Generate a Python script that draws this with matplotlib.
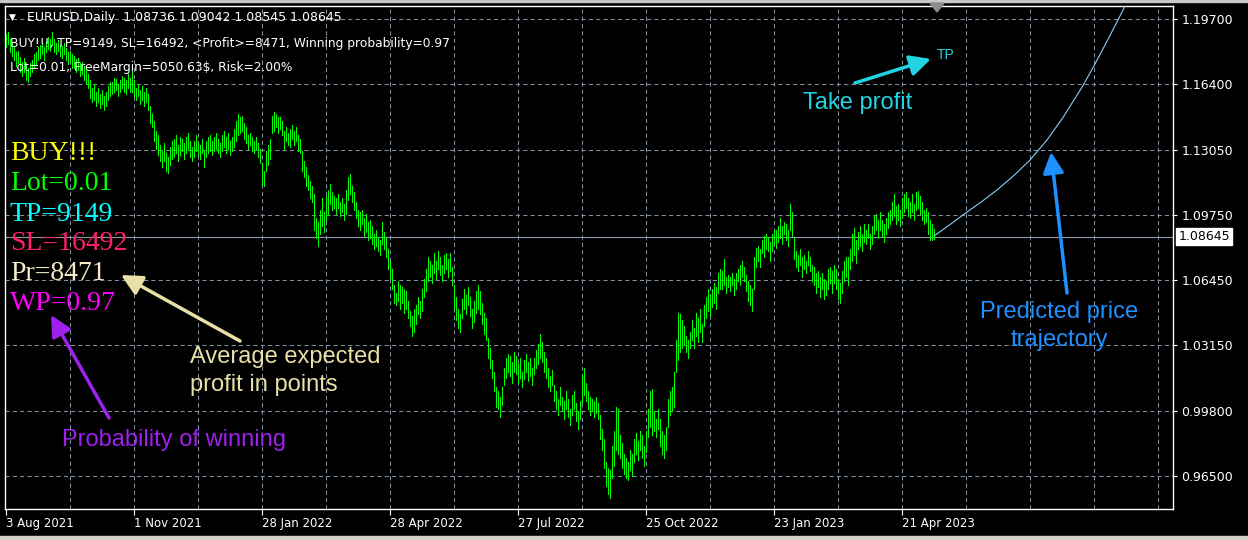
import numpy as np
import matplotlib
matplotlib.use('Agg')
import matplotlib.pyplot as plt
from matplotlib.patches import Polygon, Rectangle, FancyArrowPatch
from matplotlib.transforms import blended_transform_factory

# Daily EURUSD bars, low / high in pips (price * 10000)
bar_low = [
    11830, 11845, 11800, 11780, 11760, 11730, 11745, 11700, 11680, 11700, 11660, 11650, 11680,
    11700, 11720, 11740, 11760, 11770, 11790, 11760, 11800, 11820, 11810, 11840,
    11800, 11790, 11810, 11780, 11770, 11790, 11760, 11740, 11750, 11720,
    11720, 11700, 11710, 11680, 11690, 11660, 11640, 11620,
    11570, 11550, 11560, 11530, 11550, 11520, 11540, 11510, 11530, 11560, 11580,
    11590, 11600, 11610, 11580, 11600, 11620, 11600, 11590, 11620, 11600, 11600,
    11580, 11560, 11580, 11540, 11560, 11530, 11550, 11510,
    11440, 11420, 11350, 11310,
    11280, 11250, 11220, 11250, 11200, 11190, 11230, 11260,
    11270, 11290, 11250, 11280, 11300, 11260, 11290, 11310, 11270, 11250,
    11270, 11300, 11280, 11260, 11290, 11220, 11270, 11290, 11300, 11280,
    11300, 11310, 11290, 11270, 11300, 11320, 11290, 11310, 11280, 11300,
    11320, 11350, 11380,
    11390, 11400, 11360, 11340,
    11310, 11330, 11300, 11290, 11310, 11270, 11240,
    11130, 11120,
    11200, 11230, 11260,
    11390, 11400, 11420, 11390, 11410, 11380,
    11310, 11350, 11330, 11320, 11360, 11330, 11350, 11300, 11290,
    11200, 11170, 11120, 11100, 11060, 11040,
    10900, 10860, 10820, 10880, 10920, 10890, 10950,
    10980, 11030, 11000, 11010, 10980, 11010, 10970, 10990, 10950, 10980,
    11050, 11080, 11040, 11000,
    10960, 10920, 10900, 10930, 10870, 10890, 10850, 10860, 10830, 10800, 10820, 10790, 10770,
    10830, 10800, 10760,
    10700, 10650, 10600, 10530, 10520, 10540, 10500, 10530, 10480, 10500,
    10450, 10410, 10360, 10380, 10420, 10470, 10450, 10490,
    10560, 10590, 10640, 10660, 10630, 10680, 10650, 10700, 10670, 10640, 10680, 10700, 10660, 10690, 10620,
    10500, 10440, 10400, 10380, 10450, 10500, 10470, 10520, 10460, 10400,
    10430, 10480, 10500, 10470, 10420, 10370, 10340,
    10250, 10200, 10150, 10080, 10000, 9990, 9950, 10010,
    10110, 10150, 10180, 10160, 10120, 10180, 10170, 10120, 10150, 10100, 10140, 10180, 10130, 10160, 10110, 10170, 10200,
    10220, 10250, 10230, 10180, 10150,
    10100, 10080, 10110,
    10030, 9990, 9960, 10010, 9980, 9940, 9990, 9950, 9910, 9960, 9990, 9930, 9890, 9940,
    10020, 10060, 10030,
    9990, 9960, 9980, 9950, 9970, 9940,
    9840, 9780, 9690, 9600, 9560, 9540,
    9640, 9700, 9780, 9760, 9740,
    9690, 9660, 9640, 9630, 9680, 9650,
    9720, 9760, 9730, 9780, 9740, 9700, 9770,
    9850, 9900, 9860, 9880, 9850, 9890, 9800, 9760,
    9740, 9780, 9900, 9960,
    9980, 10000, 10180, 10240, 10280, 10300,
    10320, 10280, 10250, 10300, 10340, 10300, 10360, 10330, 10380, 10330,
    10410, 10450, 10490, 10460, 10510, 10530, 10500, 10580, 10600,
    10600, 10620, 10580, 10610, 10590, 10620, 10570, 10600, 10640, 10620, 10660, 10640, 10590,
    10540, 10520, 10490,
    10600, 10710, 10740, 10710, 10780, 10760, 10800, 10790, 10740, 10790,
    10830, 10810, 10840, 10860, 10830, 10880, 10850, 10820, 10900, 10870,
    10750, 10710, 10690, 10720, 10660, 10700, 10680, 10720, 10690,
    10640, 10620, 10580, 10610, 10560, 10600, 10550, 10570, 10600, 10630, 10580,
    10630, 10600, 10550, 10530, 10580, 10640, 10660,
    10620, 10700, 10740, 10770, 10730,
    10800, 10820, 10790, 10840, 10830, 10860, 10800, 10830,
    10880, 10900, 10860, 10900, 10870, 10840, 10880, 10910, 10930,
    10950, 10970, 10930, 10950, 10920, 10960,
    10990, 11010, 10970, 10960, 10990, 10950, 11000, 11010, 10980, 10950,
    10930, 10940, 10880, 10850, 10850, 10854,
]
bar_high = [
    11895, 11905, 11870, 11850, 11830, 11800, 11810, 11775, 11750, 11770, 11740, 11720, 11745,
    11760, 11790, 11800, 11830, 11840, 11850, 11830, 11860, 11880, 11870, 11905,
    11870, 11850, 11865, 11840, 11835, 11850, 11825, 11800, 11810, 11790,
    11780, 11765, 11770, 11745, 11750, 11730, 11710, 11690,
    11660, 11620, 11640, 11600, 11620, 11590, 11610, 11580, 11600, 11630, 11650,
    11650, 11670, 11665, 11640, 11660, 11680, 11670, 11660, 11690, 11670, 11710,
    11660, 11620, 11640, 11610, 11630, 11600, 11620, 11590,
    11530, 11490, 11450, 11400,
    11380, 11330, 11300, 11340, 11290, 11270, 11320, 11350,
    11360, 11380, 11330, 11370, 11360, 11340, 11370, 11390, 11350, 11320,
    11350, 11380, 11340, 11330, 11360, 11300, 11350, 11370, 11380, 11350,
    11370, 11390, 11360, 11340, 11380, 11400, 11370, 11390, 11350, 11370,
    11410, 11450, 11490,
    11470, 11480, 11440, 11420,
    11380, 11390, 11370, 11350, 11370, 11340, 11310,
    11240, 11200,
    11300, 11330, 11360,
    11480, 11500, 11490, 11470, 11470, 11450,
    11400, 11420, 11390, 11410, 11430, 11400, 11420, 11380, 11360,
    11300, 11250, 11220, 11180, 11150, 11120,
    11080, 10960, 10940, 11000, 11060, 10990, 11070,
    11100, 11130, 11090, 11070, 11060, 11080, 11040, 11060, 11030, 11100,
    11170, 11185, 11120, 11090,
    11040, 11000, 10990, 11000, 10960, 10980, 10940, 10950, 10920, 10880, 10900, 10860, 10850,
    10940, 10890, 10860,
    10800, 10740, 10700, 10620, 10580, 10640, 10620, 10610, 10600, 10590,
    10540, 10490, 10460, 10500, 10520, 10560, 10540, 10600,
    10650, 10700, 10760, 10740, 10720, 10780, 10740, 10790, 10760, 10720, 10770, 10780, 10750, 10780, 10710,
    10620, 10560, 10500, 10470, 10550, 10600, 10570, 10610, 10560, 10500,
    10540, 10590, 10620, 10590, 10530, 10480, 10450,
    10350, 10300, 10240, 10180, 10100, 10080, 10050, 10100,
    10200, 10250, 10270, 10260, 10230, 10280, 10260, 10220, 10250, 10180, 10240, 10270, 10230, 10250, 10200, 10250, 10290,
    10320, 10370, 10330, 10280, 10250,
    10200, 10160, 10190,
    10110, 10080, 10040, 10100, 10050, 10030, 10080, 10040, 9990, 10060, 10080, 10020, 9980, 10030,
    10170, 10200, 10120,
    10080, 10050, 10040, 10030, 10050, 10020,
    9960, 9890, 9840, 9720, 9690, 9680,
    9800, 9880, 10000, 9990, 9860,
    9820, 9760, 9740, 9720, 9780, 9760,
    9840, 9870, 9830, 9880, 9860, 9800, 9880,
    9990, 10080, 10090, 9980, 9940, 9990, 9940, 9880,
    9860, 9900, 10040, 10080,
    10100, 10180, 10340, 10480, 10470, 10440,
    10410, 10360, 10340, 10380, 10440, 10400, 10480, 10450, 10500, 10420,
    10520, 10560, 10600, 10570, 10600, 10630, 10610, 10680, 10700,
    10690, 10750, 10660, 10670, 10660, 10680, 10650, 10680, 10700, 10720, 10740, 10710, 10670,
    10640, 10620, 10600,
    10760, 10810, 10820, 10800, 10850, 10870, 10880, 10860, 10840, 10880,
    10900, 10900, 10920, 10960, 10920, 10940, 10930, 10900, 11030, 10990,
    10860, 10790, 10770, 10800, 10760, 10770, 10740, 10790, 10760,
    10720, 10710, 10680, 10690, 10660, 10680, 10650, 10640, 10700, 10710, 10690,
    10720, 10700, 10650, 10630, 10690, 10740, 10760,
    10760, 10800, 10880, 10910, 10850,
    10890, 10920, 10880, 10930, 10900, 10930, 10880, 10920,
    10970, 10980, 10950, 10990, 10950, 10930, 10960, 10990, 11000,
    11040, 11080, 11020, 11030, 11000, 11060,
    11080, 11090, 11060, 11040, 11080, 11030, 11090, 11095, 11070, 11040,
    11000, 11010, 10990, 10950, 10930, 10904,
]

# predicted trajectory (bar index, price)
pred_idx = [464, 473, 480.5, 488, 495.5, 504, 512, 520.5, 528.5, 538.5, 544.5, 552, 559.5, 564.5]
pred_price = [1.0868, 1.0934, 1.0990, 1.1044, 1.1102, 1.1176, 1.1254, 1.1356, 1.1470,
              1.1632, 1.1742, 1.1886, 1.2035, 1.2132]

last_close = 1.08645
price_ticks = [1.19700, 1.16400, 1.13050, 1.09750, 1.06450, 1.03150, 0.99800, 0.96500]
date_idx = [0, 64, 128, 192, 256, 320, 384, 448]
date_labels = ['3 Aug 2021', '1 Nov 2021', '28 Jan 2022', '28 Apr 2022',
               '27 Jul 2022', '25 Oct 2022', '23 Jan 2023', '21 Apr 2023']

W, H = 1248, 540
grid_c = '#8090A0'

fig = plt.figure(figsize=(W / 100, H / 100), dpi=100, facecolor='black')
ax = fig.add_axes([5 / W, 31 / H, 1168 / W, 503 / H], facecolor='black')

lows = np.array(bar_low) / 10000
highs = np.array(bar_high) / 10000
idx = np.arange(len(lows))

# grid
for i in range(32, 584, 32):
    ax.axvline(i, color=grid_c, lw=0.75, ls=(0, (4, 3)), zorder=1)
for p in price_ticks:
    ax.axhline(p, color=grid_c, lw=0.75, ls=(0, (4, 3)), zorder=1)

ax.axhline(last_close, color='#8A98A8', lw=0.8, zorder=2)
ax.vlines(idx, lows, highs, color='#00FF00', lw=0.72, antialiased=False, zorder=3)
ax.plot(pred_idx, pred_price, color='#87CEFA', lw=0.8, zorder=3)

ax.set_xlim(-0.5, 583.5)
ax.set_ylim(0.94825, 1.2036)

for s in ax.spines.values():
    s.set_color('white')
    s.set_linewidth(1)

ax.yaxis.tick_right()
ax.set_yticks(price_ticks)
ax.set_yticklabels(['%.5f' % p for p in price_ticks])
ax.tick_params(axis='y', colors='white', length=3, pad=3, labelsize=9)
ax.set_xticks(date_idx)
ax.set_xticklabels(date_labels)
ax.tick_params(axis='x', colors='white', length=4, pad=2, labelsize=8.5)
for lbl in ax.get_xticklabels():
    lbl.set_ha('left')

# current price box
tr = blended_transform_factory(ax.transAxes, ax.transData)
ax.text(1.0045, last_close, '1.08645', transform=tr, color='black', fontsize=9,
        va='center', ha='left',
        bbox=dict(facecolor='white', edgecolor='white', pad=1.5))


def fx(x):
    return x / W


def fy(y):
    return 1 - y / H


# window chrome strips
fig.patches.append(Rectangle((0, 0), 1, 4 / H, transform=fig.transFigure, color='#D4D0C8'))
fig.patches.append(Rectangle((0, fy(2)), 1, 2 / H, transform=fig.transFigure, color='#C8C8C8'))
fig.patches.append(Polygon([(fx(930), fy(3)), (fx(944), fy(3)), (fx(937), fy(12))],
                           closed=True, transform=fig.transFigure, color='#8C8C8C'))

# header text
fig.text(fx(9), fy(17), '▼', color='white', fontsize=6.5, va='center')
fig.text(fx(27), fy(17), 'EURUSD,Daily  1.08736 1.09042 1.08545 1.08645',
         color='white', fontsize=9, va='center')
fig.text(fx(10), fy(43), 'BUY!!!, TP=9149, SL=16492, <Profit>=8471, Winning probability=0.97',
         color='white', fontsize=8.8, va='center')
fig.text(fx(10), fy(67), 'Lot=0.01, FreeMargin=5050.63$, Risk=2.00%',
         color='white', fontsize=8.8, va='center')

# big signal text
big = [('BUY!!!', '#FFFF00', 154), ('Lot=0.01', '#00FF00', 184), ('TP=9149', '#00FFFF', 214),
       ('SL=16492', '#FF1F6B', 244), ('Pr=8471', '#F5EBC8', 273), ('WP=0.97', '#FF00FF', 303)]
for txt, col, y in big:
    fig.text(fx(10), fy(y), txt, color=col, fontsize=20, family='Liberation Serif', va='center')

# annotations
ann_font = dict(fontsize=17, family='Liberation Sans')
fig.text(fx(858), fy(103), 'Take profit', color='#22D3E3', ha='center', va='center', **ann_font)
fig.text(fx(937), fy(55), 'TP', color='#22D3E3', ha='left', va='center', fontsize=10,
         family='Liberation Sans')
fig.text(fx(1059), fy(326), 'Predicted price\ntrajectory', color='#1E90FF', ha='center',
         va='center', linespacing=1.38, **ann_font)
fig.text(fx(190), fy(371), 'Average expected\nprofit in points', color='#E8E0A8', ha='left',
         va='center', linespacing=1.38, **ann_font)
fig.text(fx(62), fy(440), 'Probability of winning', color='#A020F0', ha='left', va='center',
         **ann_font)

arrows = [((855, 83), (931, 59), '#22D3E3'),
          ((1067, 293), (1051, 152), '#1E90FF'),
          ((240, 341), (121, 275), '#E8E0A8'),
          ((109, 418), (51, 315), '#A020F0')]
for (x0, y0), (x1, y1), col in arrows:
    fig.add_artist(FancyArrowPatch(
        (fx(x0), fy(y0)), (fx(x1), fy(y1)), transform=fig.transFigure,
        arrowstyle='-|>,head_length=0.9,head_width=0.45', mutation_scale=14,
        color=col, lw=2.5, shrinkA=0, shrinkB=0))

fig.savefig('out.png', dpi=100, facecolor='black')
